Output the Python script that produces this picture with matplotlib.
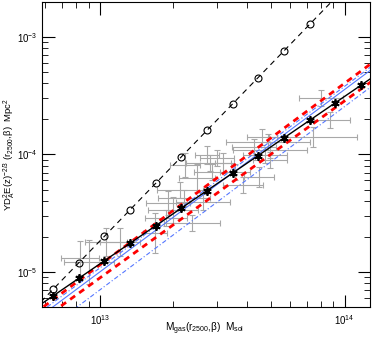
import numpy as np
import matplotlib
matplotlib.use("Agg")
import matplotlib.pyplot as plt

plt.rcParams['font.family'] = ['Liberation Sans', 'DejaVu Sans']
plt.rcParams['mathtext.fontset'] = 'custom'
plt.rcParams['mathtext.rm'] = 'Liberation Sans'
plt.rcParams['mathtext.it'] = 'Liberation Sans'

# gas mass where the model markers sit (units 1e13 Msol)
marker_m = [0.644, 0.820, 1.045, 1.327, 1.690, 2.153, 2.742, 3.491, 4.436, 5.649, 7.194, 9.163, 11.64]

# scaling relations Y = norm * (M / 1e13)^slope
selfsim_norm, selfsim_slope = 1.17e-5, 1.424      # black solid, stars
steep_norm, steep_slope = 1.83e-5, 2.149          # black dashed, circles
fit_norm, fit_slope = 1.00e-5, 1.551              # blue solid
fit_hi_norm, fit_hi_slope = 1.081e-5, 1.544       # blue dash-dot upper
fit_lo_norm, fit_lo_slope = 7.03e-6, 1.559        # blue dash-dot lower
red_hi_norm, red_hi_slope = 1.146e-5, 1.545       # red dashed upper
red_lo_norm, red_lo_slope = 8.89e-6, 1.505        # red dashed lower

# cluster measurements: mass (1e13 Msol), Y (1e-5 Mpc^2), errors in dex
m_gas = [0.828, 1.058, 0.902, 1.208, 1.897, 1.679, 2.742, 2.818, 2.871, 2.494,
         2.123, 2.206, 2.642, 1.991, 1.862, 2.383, 4.60, 4.87, 4.27, 4.96,
         3.18, 4.73, 4.96, 3.01, 7.45, 8.04, 8.73, 4.48, 3.85, 3.57, 2.23]
y_sz = [1.315, 1.80, 1.216, 1.80, 3.86, 2.14, 9.87, 8.43, 7.08, 6.30,
        4.98, 4.26, 3.94, 3.37, 2.88, 2.61, 14.0, 12.7, 11.5, 10.9,
        8.43, 9.87, 8.95, 9.31, 14.0, 30.1, 19.5, 6.41, 5.48, 7.08, 8.11]
dlog_m = [.078, .086, .102, .082, .090, .049, .049, .098, .074, .074,
          .094, .106, .111, .102, .086, .115, .061, .172, .090, .151,
          .033, .090, .070, .070, .180, .090, .082, .061, .082, .061, .061]
dlog_y = [.144, .119, .187, .119, .102, .170, .076, .068, .068, .119,
          .068, .068, .068, .110, .068, .068, .068, .068, .068, .068,
          .085, .068, .068, .068, .085, .068, .068, .085, .068, .068, .102]

m = np.array(m_gas) * 1e13
y = np.array(y_sz) * 1e-5
dm = np.array(dlog_m)
dy = np.array(dlog_y)
xerr = [m - m * 10**(-dm), m * 10**dm - m]
yerr = [y - y * 10**(-dy), y * 10**dy - y]

fig = plt.figure(figsize=(3.74, 3.44), dpi=100)
ax = fig.add_axes([0.1123, 0.1084, 0.877, 0.8872])

ax.errorbar(m, y, xerr=xerr, yerr=yerr, fmt='none', ecolor='#a8a8a8',
            elinewidth=0.8, capsize=2, capthick=0.8, zorder=1)

mm = np.logspace(12.5, 14.5, 200)
def rel(norm, slope, mass):
    return norm * (np.asarray(mass) / 1e13)**slope

blue = '#5577ff'
ax.plot(mm, rel(fit_norm, fit_slope, mm), color=blue, lw=0.8, zorder=3)
ax.plot(mm, rel(fit_hi_norm, fit_hi_slope, mm), color=blue, lw=0.8, ls=(0, (4, 2, 1, 2)), zorder=3)
ax.plot(mm, rel(fit_lo_norm, fit_lo_slope, mm), color=blue, lw=0.8, ls=(0, (4, 2, 1, 2)), zorder=3)
ax.plot(mm, rel(red_hi_norm, red_hi_slope, mm), color='red', lw=2.0, ls=(0, (2.2, 1.8)), zorder=4)
ax.plot(mm, rel(red_lo_norm, red_lo_slope, mm), color='red', lw=2.0, ls=(0, (2.2, 1.8)), zorder=4)

mk = np.array(marker_m) * 1e13
ax.plot(mm, rel(selfsim_norm, selfsim_slope, mm), color='black', lw=1.0, zorder=5)
ax.plot(mk, rel(selfsim_norm, selfsim_slope, mk), ls='none', marker=(6, 2, 0),
        ms=6, mew=1.3, color='black', zorder=6)
ax.plot(mm, rel(steep_norm, steep_slope, mm), color='black', lw=0.8, ls=(0, (5, 4)), zorder=5)
ax.plot(mk, rel(steep_norm, steep_slope, mk), ls='none', marker='o',
        ms=5, mfc='none', mec='black', mew=0.8, zorder=6)

ax.set_xscale('log')
ax.set_yscale('log')
ax.set_xlim(5.81e12, 1.27e14)
ax.set_ylim(5.07e-6, 1.99e-3)

ax.tick_params(which='both', direction='in', top=True, right=True, labelsize=7)
ax.tick_params(which='major', length=9, width=0.8)
ax.tick_params(which='minor', length=4.5, width=0.6)
ax.tick_params(axis='x', pad=5)
ax.tick_params(axis='y', pad=3)
for s in ax.spines.values():
    s.set_linewidth(0.8)

ax.set_xlabel(r'M$_{\rm gas}$(r$_{2500}$,β)  M$_{\rm sol}$', fontsize=7.2)
ax.xaxis.set_label_coords(0.497, -0.045)
ax.set_ylabel(r'YD$_{\rm A}^2$E(z)$^{-2/3}$ (r$_{2500}$,β)  Mpc$^2$', fontsize=6.8)
ax.yaxis.set_label_coords(-0.076, 0.497)

fig.savefig('out.png', dpi=100)
